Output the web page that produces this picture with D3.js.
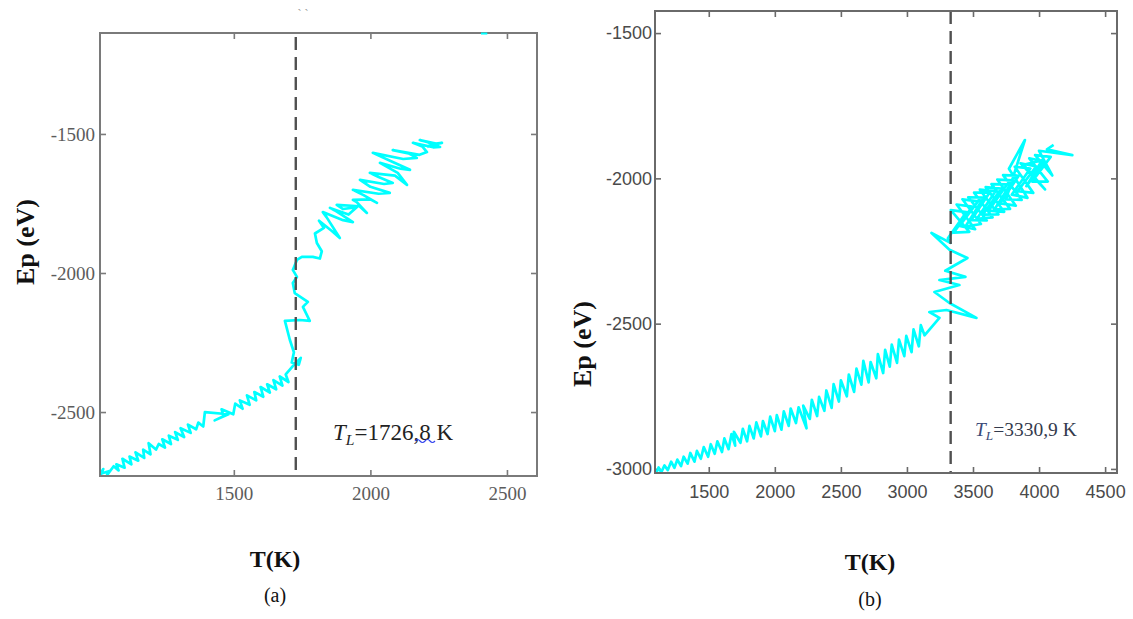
<!DOCTYPE html>
<html>
<head>
<meta charset="utf-8">
<script src="https://cdn.jsdelivr.net/npm/d3@7"></script>
<style>
  html, body { margin: 0; padding: 0; background: #fff; }
  svg { display: block; }
</style>
</head>
<body>
<svg id="fig" width="1133" height="619"></svg>
<script>
// ---- data: potential energy Ep (eV) versus temperature T (K) ----
const ticksAX = [1500, 2000, 2500];
const ticksAY = [-2500, -2000, -1500];
const ticksBX = [1500, 2000, 2500, 3000, 3500, 4000, 4500];
const ticksBY = [-3000, -2500, -2000, -1500];

const meltA = 1726.8;   // T_L, panel (a)
const meltB = 3330.9;   // T_L, panel (b)
const labelA = "1726,8";
const labelB = "3330,9";

// panel (a): heating run, [T, Ep]
const pointsA = [
  [1010,-2735],[1022,-2705],[1012,-2722],[1045,-2712],[1035,-2728],[1060,-2695],[1078,-2710],
  [1070,-2688],[1100,-2700],[1092,-2668],[1125,-2688],[1118,-2660],[1150,-2675],[1140,-2645],
  [1172,-2665],[1168,-2635],[1195,-2652],[1188,-2612],[1215,-2635],[1225,-2615],[1248,-2628],
  [1238,-2598],[1270,-2615],[1262,-2585],[1295,-2600],[1285,-2572],[1318,-2590],[1305,-2558],
  [1342,-2575],[1332,-2545],[1362,-2562],[1370,-2538],[1388,-2552],[1394,-2500],[1480,-2508],
  [1430,-2530],[1462,-2515],[1455,-2490],[1498,-2508],[1505,-2470],[1532,-2488],[1522,-2458],
  [1558,-2474],[1548,-2440],[1582,-2458],[1575,-2428],[1608,-2445],[1598,-2410],[1632,-2430],
  [1622,-2400],[1655,-2418],[1645,-2385],[1678,-2405],[1668,-2372],[1700,-2392],[1690,-2365],
  [1716,-2335],[1745,-2305],[1738,-2330],[1712,-2322],[1720,-2285],[1705,-2240],
  [1687,-2172],[1742,-2169],[1778,-2172],[1753,-2122],[1771,-2104],[1723,-2072],[1716,-2036],
  [1731,-2014],[1716,-1989],[1731,-1953],[1749,-1942],[1789,-1942],[1815,-1948],[1822,-1922],
  [1804,-1892],[1797,-1858],
  [1830,-1838],[1812,-1812],[1860,-1850],[1888,-1874],[1840,-1800],[1826,-1781],[1900,-1810],
  [1936,-1817],[1870,-1775],[1852,-1766],[1920,-1790],[1951,-1763],[1900,-1770],[1877,-1755],
  [1960,-1760],[1987,-1784],[1950,-1745],[1936,-1737],[2000,-1735],[2024,-1748],[1975,-1720],
  [1936,-1701],[2030,-1715],[2071,-1712],[2000,-1690],[1962,-1665],[2050,-1680],[2082,-1676],
  [2030,-1655],[1998,-1640],[2090,-1650],[2134,-1683],[2100,-1640],[2035,-1604],[2110,-1625],
  [2145,-1629],[2080,-1600],[2009,-1568],[2120,-1590],[2170,-1586],[2140,-1570],[2082,-1558],
  [2180,-1575],[2207,-1565],[2190,-1545],[2156,-1532],[2230,-1548],[2255,-1547],[2210,-1530],
  [2181,-1522],[2240,-1535],[2262,-1532],[2220,-1540],[2207,-1547]
];
// short stray trace on the top edge of panel (a)
const strayA = [[2405,-1139],[2428,-1139]];

// panel (b): heating run, [T, Ep]
const pointsB = [
  [1095,-3022],[1120,-2995],[1140,-3012],[1165,-2988],[1190,-3004],[1215,-2975],[1240,-2996],
  [1262,-2968],[1290,-2990],[1310,-2958],[1340,-2982],[1360,-2945],[1392,-2975],[1410,-2938],
  [1440,-2965],[1462,-2925],[1495,-2958],[1515,-2915],[1545,-2948],[1565,-2905],[1600,-2942],
  [1618,-2895],[1650,-2932],[1672,-2880],[1700,-2920],[1690,-2872],[1740,-2910],[1758,-2862],
  [1790,-2905],[1808,-2852],[1840,-2895],[1860,-2840],[1895,-2888],[1910,-2835],[1945,-2880],
  [1965,-2820],[2000,-2870],[2015,-2815],[2050,-2865],[2068,-2802],[2105,-2852],[2120,-2792],
  [2160,-2842],[2180,-2788],[2240,-2860],[2215,-2782],[2265,-2828],[2280,-2762],[2320,-2818],
  [2335,-2752],[2375,-2800],[2390,-2730],[2430,-2790],[2445,-2708],[2485,-2768],[2500,-2695],
  [2545,-2750],[2560,-2675],[2600,-2735],[2618,-2655],[2655,-2710],[2670,-2628],[2710,-2702],
  [2725,-2632],[2768,-2688],[2780,-2605],[2820,-2670],[2835,-2590],[2870,-2648],[2885,-2572],
  [2925,-2635],[2940,-2555],[2980,-2612],[2995,-2542],[3035,-2598],[3050,-2520],[3090,-2578],
  [3105,-2505],[3133,-2540],
  [3246,-2480],[3170,-2460],[3299,-2453],[3526,-2480],[3322,-2429],[3208,-2391],[3397,-2367],
  [3246,-2350],[3443,-2339],[3290,-2318],[3458,-2274],[3322,-2246],[3186,-2188],[3330,-2222],
  [3310,-2206],[3450,-2116],[3332,-2109],[3472,-2184],[3354,-2187],[3494,-2097],[3376,-2090],
  [3516,-2175],[3398,-2164],[3538,-2079],[3420,-2072],[3560,-2157],[3442,-2166],[3582,-2066],
  [3464,-2065],[3604,-2145],[3486,-2144],[3626,-2049],[3508,-2049],[3648,-2134],[3530,-2139],
  [3670,-2044],[3552,-2039],[3692,-2124],[3574,-2125],[3714,-2035],[3596,-2030],[3736,-2115],
  [3618,-2111],[3758,-2021],[3640,-2020],[3780,-2105],[3662,-2107],[3802,-2007],[3684,-2004],
  [3824,-2094],[3706,-2086],[3846,-1991],[3728,-1989],[3868,-2074],[3750,-2072],[3893,-1868],
  [3772,-1967],[3912,-2067],[3794,-2056],[3934,-1966],[3816,-1960],[3956,-2050],[3838,-2044],
  [3978,-1959],[3860,-1948],[4045,-2038],[3882,-1953],[4022,-1938],[3904,-2027],[4044,-1942],
  [3926,-1931],[4066,-2011],[3948,-2011],[4088,-1926],[3970,-1920],[4100,-1990],[4000,-1905],
  [4252,-1920],[4060,-1900],[4110,-1885]
];

// ---- drawing ----
const svg = d3.select("#fig");
const serif = "'Liberation Serif', 'Times New Roman', serif";
const sans = "'Liberation Sans', Arial, sans-serif";
const CYAN = "#00ffff";
const fmt = d => (d < 0 ? "-" + Math.abs(d) : String(d));

function panel(opts) {
  const { id, box, xDom, yDom, xTicks, yTicks, data, melt, frameColor, tickFont, tickSize, tickColor, padX, padY } = opts;
  const x = d3.scaleLinear().domain(xDom).range([box.l, box.r]);
  const y = d3.scaleLinear().domain(yDom).range([box.b, box.t]);
  const g = svg.append("g");

  g.append("clipPath").attr("id", "clip-" + id)
    .append("rect").attr("x", box.l).attr("y", box.t)
    .attr("width", box.r - box.l).attr("height", box.b - box.t);

  // inward ticks on all four sides
  const styleAxis = sel => {
    sel.select(".domain").remove();
    sel.selectAll(".tick line").attr("stroke", frameColor).attr("stroke-width", 1.6);
    sel.selectAll(".tick text").attr("font-family", tickFont).attr("font-size", tickSize)
      .attr("fill", tickColor);
  };
  g.append("g").attr("transform", `translate(0,${box.b})`)
    .call(d3.axisBottom(x).tickValues(xTicks).tickFormat(fmt)
      .tickSizeInner(-6).tickSizeOuter(0).tickPadding(padX)).call(styleAxis);
  g.append("g").attr("transform", `translate(0,${box.t})`)
    .call(d3.axisTop(x).tickValues(xTicks).tickFormat("").tickSizeInner(-6).tickSizeOuter(0)).call(styleAxis);
  g.append("g").attr("transform", `translate(${box.l},0)`)
    .call(d3.axisLeft(y).tickValues(yTicks).tickFormat(fmt)
      .tickSizeInner(-6).tickSizeOuter(0).tickPadding(padY)).call(styleAxis);
  g.append("g").attr("transform", `translate(${box.r},0)`)
    .call(d3.axisRight(y).tickValues(yTicks).tickFormat("").tickSizeInner(-6).tickSizeOuter(0)).call(styleAxis);

  // energy trace
  const line = d3.line().x(d => x(d[0])).y(d => y(d[1]));
  g.append("path").datum(data)
    .attr("clip-path", `url(#clip-${id})`)
    .attr("d", line).attr("fill", "none").attr("stroke", CYAN)
    .attr("stroke-width", 2.7).attr("stroke-linejoin", "round");

  // melting temperature marker
  g.append("line")
    .attr("x1", x(melt)).attr("x2", x(melt))
    .attr("y1", box.t + opts.dashTop).attr("y2", box.b)
    .attr("stroke", "#505050").attr("stroke-width", 2.4)
    .attr("stroke-dasharray", "13,7");

  // frame
  g.append("rect").attr("x", box.l).attr("y", box.t)
    .attr("width", box.r - box.l).attr("height", box.b - box.t)
    .attr("fill", "none").attr("stroke", frameColor).attr("stroke-width", 2);

  return { g, x, y, line };
}

// panel (a)
const A = panel({
  id: "a", box: { l: 100, r: 537, t: 33, b: 476 },
  xDom: [1010, 2610], yDom: [-2730, -1137],
  xTicks: ticksAX, yTicks: ticksAY, data: pointsA, melt: meltA, dashTop: 4,
  frameColor: "#7a7a7a", tickFont: serif, tickSize: 19, tickColor: "#5c5c5c", padX: 11, padY: 5
});
A.g.append("path").datum(strayA).attr("d", A.line)
  .attr("stroke", CYAN).attr("stroke-width", 2).attr("fill", "none");

// panel (b)
const B = panel({
  id: "b", box: { l: 655, r: 1117, t: 11, b: 473 },
  xDom: [1093, 4590], yDom: [-3014, -1424],
  xTicks: ticksBX, yTicks: ticksBY, data: pointsB, melt: meltB, dashTop: 0,
  frameColor: "#6a6a6a", tickFont: sans, tickSize: 18, tickColor: "#4a4a4a", padX: 12, padY: 3
});

// axis titles and panel captions
function yTitle(cx, cy) {
  svg.append("text").attr("transform", `translate(${cx},${cy}) rotate(-90)`)
    .attr("text-anchor", "middle").attr("font-family", serif).attr("font-weight", "bold")
    .attr("font-size", 26).attr("fill", "#111").text("Ep (eV)");
}
yTitle(34, 242);
yTitle(591, 344);

function caption(cx, y1, y2, letter) {
  svg.append("text").attr("x", cx).attr("y", y1).attr("text-anchor", "middle")
    .attr("font-family", serif).attr("font-weight", "bold").attr("font-size", 24)
    .attr("fill", "#111").text("T(K)");
  svg.append("text").attr("x", cx).attr("y", y2).attr("text-anchor", "middle")
    .attr("font-family", serif).attr("font-size", 20).attr("fill", "#111").text(letter);
}
caption(275, 567, 602, "(a)");
caption(870, 570, 606, "(b)");

// T_L annotations
function tl(xp, yp, size, value, cT, cV) {
  const t = svg.append("text").attr("x", xp).attr("y", yp)
    .attr("font-family", serif).attr("font-size", size);
  t.append("tspan").attr("font-style", "italic").attr("fill", cT).text("T");
  t.append("tspan").attr("font-style", "italic").attr("fill", cT)
    .attr("font-size", size * 0.68).attr("dy", size * 0.22).text("L");
  t.append("tspan").attr("fill", cV).attr("dy", -size * 0.22).text("=" + value + " K");
  return t;
}
tl(333, 440, 23, labelA, "#222", "#222");
// wavy proofing underline under the last digit
svg.append("path")
  .attr("d", "M415,441 q2.5,-3 5,0 t5,0 t5,0 t5,0")
  .attr("fill", "none").attr("stroke", "#3344ee").attr("stroke-width", 1.2);
tl(975, 436, 19.5, labelB, "#3c4a78", "#333a4c");

// faint marks above panel (a)
svg.append("text").attr("x", 303).attr("y", 18).attr("text-anchor", "middle")
  .attr("font-family", serif).attr("font-size", 12).attr("fill", "#999").text("` `");
</script>
</body>
</html>
